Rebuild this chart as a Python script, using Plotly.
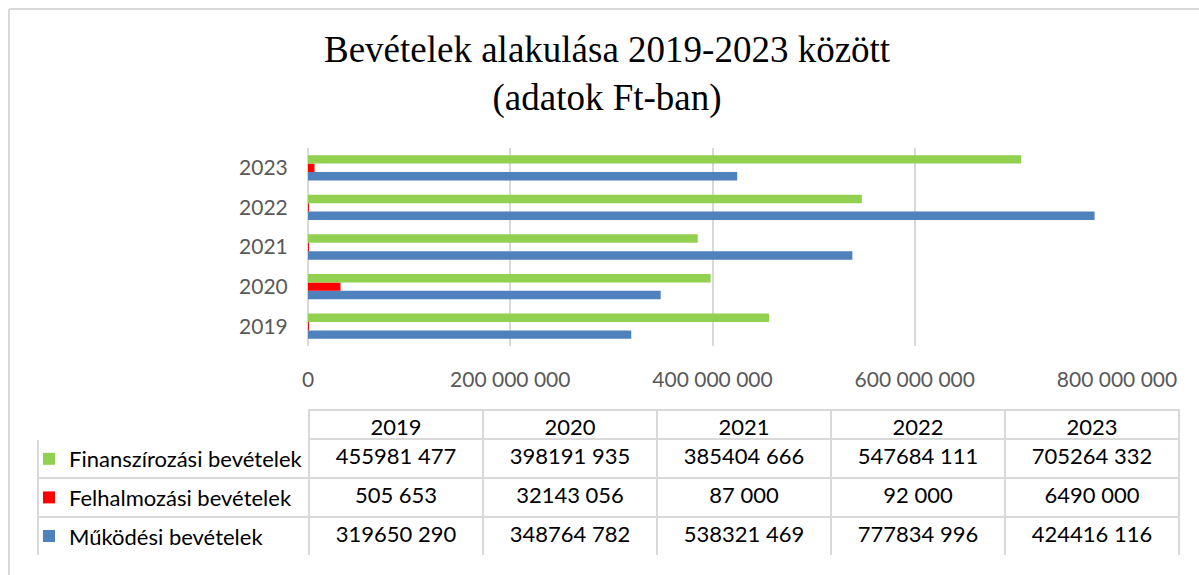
import plotly.graph_objects as go

W, H = 1199, 575

years = ["2019", "2020", "2021", "2022", "2023"]
series_names = ["Finanszírozási bevételek", "Felhalmozási bevételek", "Működési bevételek"]
finanszirozasi = [455981477, 398191935, 385404666, 547684111, 705264332]
felhalmozasi = [505653, 32143056, 87000, 92000, 6490000]
mukodesi = [319650290, 348764782, 538321469, 777834996, 424416116]
colors = {"Finanszírozási bevételek": "#92D050",
          "Felhalmozási bevételek": "#FF0000",
          "Működési bevételek": "#4F81BD"}
values = {"Finanszírozási bevételek": finanszirozasi,
          "Felhalmozási bevételek": felhalmozasi,
          "Működési bevételek": mukodesi}
x_ticks = [0, 200000000, 400000000, 600000000, 800000000]
x_tick_labels = ["0", "200 000 000", "400 000 000", "600 000 000", "800 000 000"]

FONT = "Lato"
GRID = "#D9D9D9"


def fmt(v):
    return f"{v // 1000} {v % 1000:03d}" if v >= 1000 else str(v)


def px_x(p):
    return p / W


def px_y(p):
    return 1 - p / H


fig = go.Figure()
# plotly draws the first trace at the bottom of each group
for name in ["Működési bevételek", "Felhalmozási bevételek", "Finanszírozási bevételek"]:
    fig.add_trace(go.Bar(
        y=years, x=values[name], name=name, orientation="h",
        marker=dict(color=colors[name], line=dict(width=0)),
        showlegend=True, legendgroup=name,
        legendrank=series_names.index(name) + 1,
        hoverinfo="x+y+name",
    ))

# data table; the legend keys sit in its first column
cols = [["" for _ in series_names]] + [[fmt(values[n][i]) for n in series_names]
                                       for i in range(len(years))]
fig.add_trace(go.Table(
    domain=dict(x=[px_x(38), px_x(1179)], y=[px_y(556), px_y(410)]),
    columnwidth=[271, 174, 174, 174, 174, 174],
    header=dict(
        values=[""] + years,
        fill=dict(color="white"),
        line=dict(color=["white"] + [GRID] * 5, width=2),
        align="center",
        font=dict(family=FONT, size=22, color="black"),
        height=29,
    ),
    cells=dict(
        values=cols,
        fill=dict(color="white"),
        line=dict(color=GRID, width=2),
        align=["left"] + ["center"] * 5,
        font=dict(family=FONT, size=22, color="black"),
        height=39,
    ),
))

fig.update_layout(
    width=W, height=H,
    margin=dict(l=0, r=0, t=0, b=0, autoexpand=False),
    paper_bgcolor="white", plot_bgcolor="white",
    barmode="group", bargap=0.36, bargroupgap=0,
    font=dict(family=FONT, size=21, color="#595959"),
    showlegend=True,
    legend=dict(
        x=px_x(29), y=px_y(438), xanchor="left", yanchor="top",
        traceorder="grouped", tracegroupgap=7,
        bgcolor="rgba(0,0,0,0)", borderwidth=0,
        font=dict(family=FONT, size=22, color="black"),
        itemclick=False, itemdoubleclick=False,
    ),
    xaxis=dict(
        domain=[px_x(308), px_x(1117)],
        range=[0, 800000000],
        tickvals=x_ticks, ticktext=x_tick_labels,
        showgrid=True, gridcolor=GRID, gridwidth=2,
        zeroline=True, zerolinecolor=GRID, zerolinewidth=2,
        showline=False, automargin=False,
        ticks="outside", ticklen=15, tickcolor="rgba(0,0,0,0)",
        tickfont=dict(family=FONT, size=21, color="#595959"),
        fixedrange=True,
    ),
    yaxis=dict(
        domain=[px_y(346), px_y(148)],
        type="category",
        showgrid=False, showline=False, zeroline=False, automargin=False,
        ticks="outside", ticklen=15, tickcolor="rgba(0,0,0,0)",
        tickfont=dict(family=FONT, size=21, color="#595959"),
        fixedrange=True,
    ),
    shapes=[
        dict(type="line", xref="paper", yref="paper",
             x0=px_x(9), x1=1, y0=px_y(9), y1=px_y(9),
             line=dict(color=GRID, width=2), layer="below"),
        dict(type="line", xref="paper", yref="paper",
             x0=px_x(9), x1=px_x(9), y0=0, y1=px_y(9),
             line=dict(color=GRID, width=2), layer="below"),
    ],
    annotations=[dict(
        text="Bevételek alakulása 2019-2023 között<br>(adatok Ft-ban)",
        xref="paper", yref="paper", x=px_x(607), y=px_y(74),
        xanchor="center", yanchor="middle", showarrow=False,
        font=dict(family="Liberation Serif", size=37, color="black"),
    )],
)

fig.write_html("out.html", config={"displayModeBar": False},
               post_script="document.body.style.margin='0';document.body.style.overflow='hidden';")
